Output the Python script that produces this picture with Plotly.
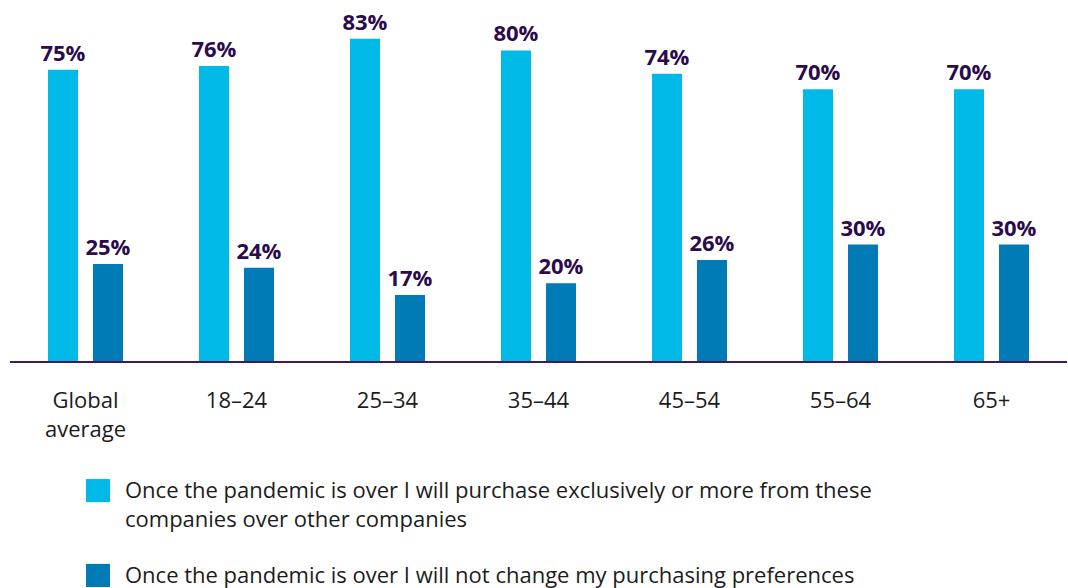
import plotly.graph_objects as go

# Data
age_groups = ["Global<br>average", "18–24", "25–34", "35–44", "45–54", "55–64", "65+"]
more_from_companies = [75, 76, 83, 80, 74, 70, 70]
no_change = [25, 24, 17, 20, 26, 30, 30]
legend_labels = [
    "Once the pandemic is over I will purchase exclusively or more from these<br>companies over other companies",
    "Once the pandemic is over I will not change my purchasing preferences",
]

LIGHT = "#00b9e7"
DARK = "#007bb5"
PURPLE = "#2c0b4c"
TEXT = "#1c1c1c"
FONT = "Open Sans"

fig = go.Figure()
for vals, color in [(more_from_companies, LIGHT), (no_change, DARK)]:
    fig.add_trace(go.Bar(
        x=age_groups, y=vals,
        marker=dict(color=color, line=dict(width=0)),
        text=[f"{v}%" for v in vals],
        textposition="outside",
        constraintext="none",
        textfont=dict(family=FONT, size=22, color=PURPLE, weight="bold"),
        cliponaxis=False,
        showlegend=False,
    ))

# custom legend with large square swatches (paper coords)
legend_rows = [(-0.327, -0.391, -0.396), (-0.562, -0.626, -0.590)]
for (y0, y1, ytext), color, label in zip(legend_rows, [LIGHT, DARK], legend_labels):
    fig.add_shape(type="rect", xref="paper", yref="paper",
                  x0=0.0719, x1=0.0946, y0=y0, y1=y1,
                  fillcolor=color, line=dict(width=0))
    fig.add_annotation(xref="paper", yref="paper", x=0.1069, y=ytext,
                       xanchor="left", yanchor="middle", align="left",
                       text=label, showarrow=False,
                       font=dict(family=FONT, size=22, color=TEXT))

fig.update_layout(
    width=1068, height=588,
    margin=dict(l=10, r=1, t=0, b=227),
    barmode="group", bargap=0.404, bargroupgap=0.333,
    plot_bgcolor="white", paper_bgcolor="white",
    font=dict(family=FONT, color=TEXT),
)
fig.update_xaxes(
    showline=True, linecolor="#3b1d5c", linewidth=2,
    ticks="outside", ticklen=19, tickcolor="rgba(0,0,0,0)",
    tickfont=dict(family=FONT, size=22, color=TEXT),
    showgrid=False,
)
fig.update_yaxes(range=[0, 93], visible=False, showgrid=False)

# drop the default page margin so the figure fills the window exactly
fig.write_html("out.html", config={"displayModeBar": False},
               post_script="document.body.style.margin='0';document.body.style.overflow='hidden';")
